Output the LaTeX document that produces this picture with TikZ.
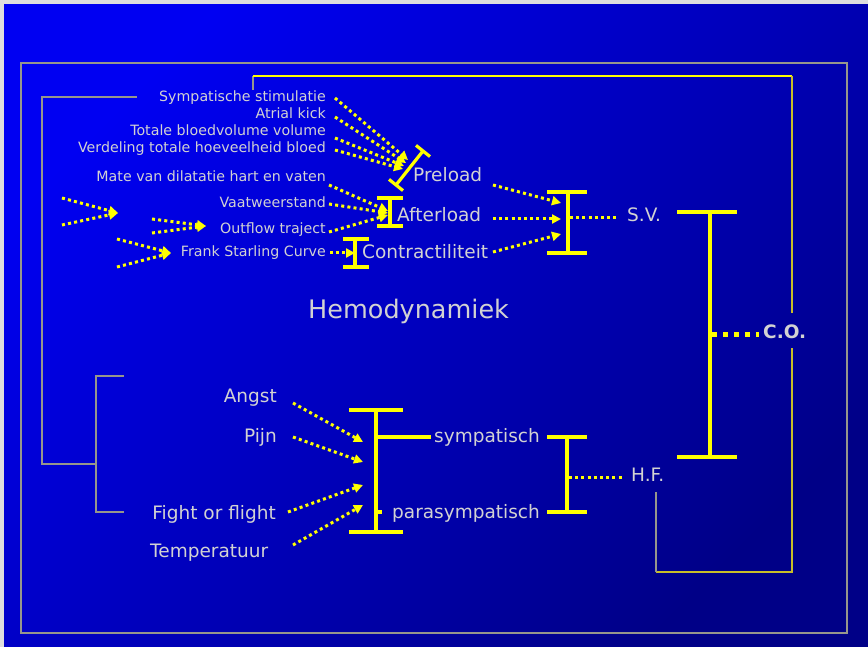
\documentclass[tikz,border=0pt]{standalone}
\usepackage{fontspec}
\setmainfont{DejaVu Sans}
\usetikzlibrary{arrows.meta}
\definecolor{bgA}{RGB}{0,0,242}
\definecolor{bgB}{RGB}{0,0,135}
\definecolor{txt}{RGB}{210,210,210}
\definecolor{yel}{RGB}{255,255,0}
\definecolor{gry}{RGB}{150,150,140}
\definecolor{oliv}{RGB}{200,190,40}
\definecolor{strip}{RGB}{222,222,222}
\begin{document}
\begin{tikzpicture}[x=1pt,y=-1pt,
  small/.style={text=txt,font=\fontsize{14.2}{16}\selectfont,inner sep=0pt},
  mid/.style={text=txt,font=\fontsize{18.5}{21}\selectfont,inner sep=0pt},
  big/.style={text=txt,font=\fontsize{25.5}{28}\selectfont,inner sep=0pt},
  ibeam/.style={draw=yel,line width=3.2pt},
  dotline/.style={draw=yel,line width=3pt,dash pattern=on 3pt off 3.2pt},
  dotarrow/.style={dotline,-{Triangle[length=9pt,width=9pt]}},
  frame/.style={draw=gry,line width=1.8pt}]
\useasboundingbox (0,0) rectangle (868,647);
\shade[top color=bgA,bottom color=bgB,shading angle=45] (0,0) rectangle (868,647);
\fill[strip] (0,0) rectangle (868,4.3);
\fill[strip] (0,0) rectangle (4,647);

% frames
\draw[frame] (21,63) rectangle (847,633);
\draw[frame] (137,97) -- (42,97) -- (42,464) -- (96,464);
\draw[frame] (124,376) -- (96,376) -- (96,512) -- (124,512);
\draw[gry,line width=1.8pt] (253,90) -- (253,76);
\draw[yel,line width=1.8pt] (253,76) -- (792,76);
\draw[oliv,line width=1.8pt] (792,76) -- (792,313);
\draw[oliv,line width=1.8pt] (792,348) -- (792,572) -- (656,572);
\draw[gry,line width=1.8pt] (656,572) -- (656,492);

% small texts
\node[small,anchor=base east] (symst) at (326,102) {Sympatische stimulatie};
\node[small,anchor=base east] (atrial) at (326,119) {Atrial kick};
\node[small,anchor=base east] (totale) at (326,136) {Totale bloedvolume volume};
\node[small,anchor=base east] (verdel) at (326,153) {Verdeling totale hoeveelheid bloed};
\node[small,anchor=base east] (mate) at (326,182) {Mate van dilatatie hart en vaten};
\node[small,anchor=base east] (vaat) at (326,208) {Vaatweerstand};
\node[small,anchor=base east] (outfl) at (326,234) {Outflow traject};
\node[small,anchor=base east] (frank) at (326,257) {Frank Starling Curve};

% medium texts
\node[mid,anchor=base west] (preload) at (413,182) {Preload};
\node[mid,anchor=base west] (afterl) at (397,222) {Afterload};
\node[mid,anchor=base west] (contr) at (362,259) {Contractiliteit};
\node[mid,anchor=base west] (sv) at (627,222) {S.V.};
\node[mid,anchor=base west,font=\fontsize{18.5}{21}\selectfont\bfseries] (co) at (763,338) {C.O.};
\node[big,anchor=base west] (hemo) at (308,318) {Hemodynamiek};
\node[mid,anchor=base east] (angst) at (277,402) {Angst};
\node[mid,anchor=base east] (pijn) at (277,442) {Pijn};
\node[mid,anchor=base east] (fight) at (276,519) {Fight or flight};
\node[mid,anchor=base west] (temp) at (150,557) {Temperatuur};
\node[mid,anchor=base east] (symp) at (540,442) {sympatisch};
\node[mid,anchor=base east] (para) at (540,518) {parasympatisch};
\node[mid,anchor=base west] (hf) at (631,481) {H.F.};

% I-beams
\draw[ibeam] (416,145.4) -- (430,156.6) (423,151) -- (396,185) (389,179.4) -- (403,190.6);
\draw[ibeam] (390,198) -- (390,226) (377,198) -- (403,198) (377,226) -- (403,226);
\draw[ibeam] (355,239) -- (355,267) (343,239) -- (369,239) (343,267) -- (369,267);
\draw[ibeam] (568,192) -- (568,253) (547,192) -- (587,192) (547,253) -- (587,253);
\draw[ibeam] (710,212) -- (710,457) (677,212) -- (737,212) (677,457) -- (737,457);
\draw[ibeam] (376,410) -- (376,532) (349,410) -- (403,410) (349,532) -- (403,532);
\coordinate (sympIn) at (431,437);
\draw[ibeam] (376,437) -- (sympIn);
\draw[ibeam] (376,512) -- (382,512);
\draw[ibeam] (567,437) -- (567,512) (547,437) -- (587,437) (547,512) -- (587,512);

% arrow start points (beside the texts)
\coordinate (symstO) at (335,98); \coordinate (atrialO) at (335,117);
\coordinate (totaleO) at (335,138); \coordinate (verdelO) at (335,150);
\coordinate (mateO) at (329,185); \coordinate (vaatO) at (329,204);
\coordinate (outflO) at (329,232); \coordinate (frankO) at (330,253);
\coordinate (preloadO) at (493,185); \coordinate (afterlO) at (493,219);
\coordinate (contrO) at (493,252);
\coordinate (angstO) at (293,403); \coordinate (pijnO) at (293,437);
\coordinate (fightO) at (288,512); \coordinate (tempO) at (293,545);
\coordinate (svO) at (616,218); \coordinate (coO) at (759,334); \coordinate (hfO) at (623,477);
% arrow end points
\coordinate (pA) at (408,160); \coordinate (pB) at (406,163);
\coordinate (pC) at (404,166); \coordinate (pD) at (403,169);
\coordinate (aA) at (388,211); \coordinate (aB) at (388,213); \coordinate (aC) at (388,215);
\coordinate (cA) at (355,253);
\coordinate (svA) at (561,203); \coordinate (svB) at (561,219); \coordinate (svC) at (561,234);
\coordinate (svS) at (570,218); \coordinate (coS) at (712,334); \coordinate (hfS) at (569,477);
\coordinate (sA) at (363,442); \coordinate (sB) at (363,462);
\coordinate (sC) at (363,485); \coordinate (sD) at (363,505);
\coordinate (f1a) at (62,198); \coordinate (f1b) at (62,225); \coordinate (f1) at (118,213);
\coordinate (f2a) at (152,219); \coordinate (f2b) at (152,233); \coordinate (f2) at (206,226);
\coordinate (f3a) at (117,239); \coordinate (f3b) at (117,267); \coordinate (f3) at (171,253);

% dotted arrows
\draw[dotarrow] (symstO) -- (pA);
\draw[dotarrow] (atrialO) -- (pB);
\draw[dotarrow] (totaleO) -- (pC);
\draw[dotarrow] (verdelO) -- (pD);
\draw[dotarrow] (mateO) -- (aA);
\draw[dotarrow] (vaatO) -- (aB);
\draw[dotarrow] (outflO) -- (aC);
\draw[dotarrow] (frankO) -- (cA);
\draw[dotarrow] (f1a) -- (f1); \draw[dotarrow] (f1b) -- (f1);
\draw[dotarrow] (f2a) -- (f2); \draw[dotarrow] (f2b) -- (f2);
\draw[dotarrow] (f3a) -- (f3); \draw[dotarrow] (f3b) -- (f3);
\draw[dotarrow] (preloadO) -- (svA);
\draw[dotarrow] (afterlO) -- (svB);
\draw[dotarrow] (contrO) -- (svC);
\draw[dotline] (svS) -- (svO);
\draw[draw=yel,line width=5pt,dash pattern=on 5pt off 6pt] (coS) -- (coO);
\draw[dotline] (hfS) -- (hfO);
\draw[dotarrow] (angstO) -- (sA);
\draw[dotarrow] (pijnO) -- (sB);
\draw[dotarrow] (fightO) -- (sC);
\draw[dotarrow] (tempO) -- (sD);
\end{tikzpicture}
\end{document}
